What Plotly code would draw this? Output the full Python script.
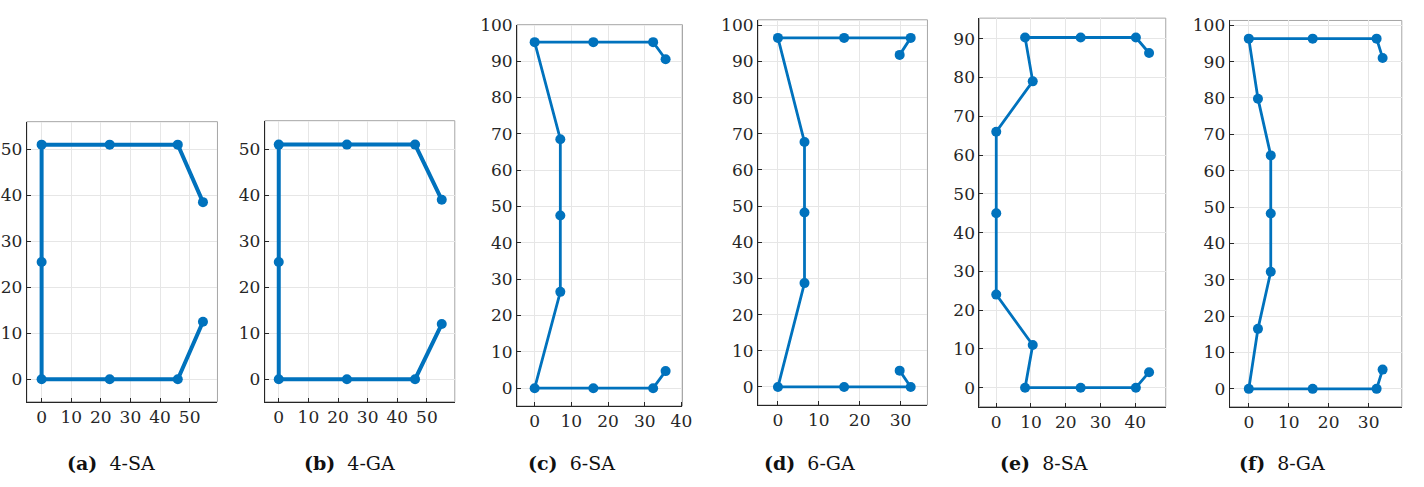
import plotly.graph_objects as go

W, H = 1424, 487

# ---- data (x, y coordinates of the section profile nodes, in path order) ----
a_x = [54.5, 46, 23, 0, 0, 0, 23, 46, 54.5]
a_y = [12.5, 0, 0, 0, 25.5, 51, 51, 51, 38.5]

b_x = [55, 46, 23, 0, 0, 0, 23, 46, 55]
b_y = [12, 0, 0, 0, 25.5, 51, 51, 51, 39]

c_x = [35.7, 32.3, 16, 0, 7, 7, 7, 0, 16, 32.3, 35.7]
c_y = [4.7, 0, 0, 0, 26.5, 47.5, 68.5, 95.2, 95.2, 95.2, 90.5]

d_x = [29.8, 32.5, 16.2, 0, 6.5, 6.5, 6.5, 0, 16.2, 32.5, 29.8]
d_y = [4.5, 0, 0, 0, 28.7, 48.2, 67.7, 96.5, 96.5, 96.5, 91.8]

e_x = [44, 40.2, 24.3, 8.3, 10.5, 0, 0, 0, 10.5, 8.3, 24.3, 40.2, 44]
e_y = [4, 0, 0, 0, 11, 24, 45, 66, 79, 90.3, 90.3, 90.3, 86.3]

f_x = [33.5, 32, 16, 0, 2.3, 5.5, 5.5, 5.5, 2.3, 0, 16, 32, 33.5]
f_y = [5.3, 0, 0, 0, 16.5, 32.2, 48.2, 64.2, 79.8, 96.3, 96.3, 96.3, 91]

captions = [("(a)", "4-SA"), ("(b)", "4-GA"), ("(c)", "6-SA"),
            ("(d)", "6-GA"), ("(e)", "8-SA"), ("(f)", "8-GA")]

xticks = [[0, 10, 20, 30, 40, 50], [0, 10, 20, 30, 40, 50], [0, 10, 20, 30, 40],
          [0, 10, 20, 30], [0, 10, 20, 30, 40], [0, 10, 20, 30]]
yticks = [[0, 10, 20, 30, 40, 50], [0, 10, 20, 30, 40, 50],
          [0, 10, 20, 30, 40, 50, 60, 70, 80, 90, 100],
          [0, 10, 20, 30, 40, 50, 60, 70, 80, 90, 100],
          [0, 10, 20, 30, 40, 50, 60, 70, 80, 90],
          [0, 10, 20, 30, 40, 50, 60, 70, 80, 90, 100]]

series = [(a_x, a_y), (b_x, b_y), (c_x, c_y), (d_x, d_y), (e_x, e_y), (f_x, f_y)]

# ---- layout (pixel boxes of each panel) ----
boxes = [(27, 219, 114, 400), (266.7, 458, 113, 400), (520.7, 687.3, 15, 404.3),
         (763.3, 934, 10, 403.3), (986.3, 1174, 8.3, 405), (1238.3, 1411.7, 10.7, 405)]
xranges = [[-5, 59.4], [-4.7, 59.4], [-4.8, 40.3], [-4.9, 36.6], [-4.86, 48.8], [-4.8, 38.3]]
yranges = [[-4.9, 56], [-4.9, 56.2], [-4.9, 100], [-5, 101.5], [-4.9, 95.3], [-4.9, 101.3]]
cap_x = [112, 352, 576, 815, 1051, 1291]
lw = [4, 4, 2.8, 2.8, 2.8, 2.8]
ms = [10, 10, 10, 10, 10, 10]

BLUE = "#0072BD"
FONT = "DejaVu Serif"

fig = go.Figure()
layout = dict(width=W, height=H, margin=dict(l=0, r=0, t=0, b=0),
              paper_bgcolor="white", plot_bgcolor="white", showlegend=False,
              font=dict(family=FONT, size=17, color="#262626"))
shapes = []
annotations = []

for i, ((xs, ys), (x0, x1, y0, y1)) in enumerate(zip(series, boxes)):
    n = "" if i == 0 else str(i + 1)
    fig.add_trace(go.Scatter(x=xs, y=ys, mode="lines+markers",
                             line=dict(color=BLUE, width=lw[i]),
                             marker=dict(color=BLUE, size=ms[i]),
                             xaxis="x" + n, yaxis="y" + n, hoverinfo="skip"))
    common = dict(showgrid=True, gridcolor="#e6e6e6", gridwidth=1, zeroline=False,
                  showline=True, linecolor="#262626", linewidth=1, mirror=False,
                  ticks="inside", ticklen=4, tickcolor="#262626",
                  tickfont=dict(family=FONT, size=17, color="#262626"))
    layout["xaxis" + n] = dict(common, domain=[x0 / W, x1 / W], range=xranges[i],
                               tickvals=xticks[i], anchor="y" + n)
    layout["yaxis" + n] = dict(common, domain=[1 - y1 / H, 1 - y0 / H], range=yranges[i],
                               tickvals=yticks[i], anchor="x" + n)
    shapes.append(dict(type="rect", xref="x" + n + " domain", yref="y" + n + " domain",
                       x0=0, x1=1, y0=0, y1=1, line=dict(color="#a6a6a6", width=1),
                       layer="below"))
    lab, name = captions[i]
    annotations.append(dict(x=cap_x[i] / W, y=1 - 463 / H, xref="paper", yref="paper",
                            text="<b>" + lab + "</b>  " + name, showarrow=False,
                            xanchor="center", yanchor="middle",
                            font=dict(family=FONT, size=19, color="#111111")))

layout["shapes"] = shapes
layout["annotations"] = annotations
fig.update_layout(**layout)
fig.write_html("out.html", config={"displayModeBar": False, "staticPlot": True},
               post_script="document.body.style.margin='0';document.body.style.overflow='hidden';")
